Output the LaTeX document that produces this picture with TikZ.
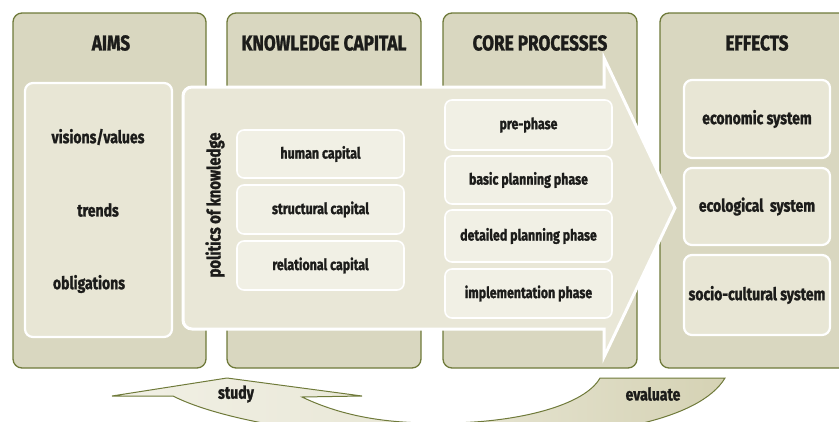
\documentclass[tikz,border=0pt]{standalone}
\usepackage{fontspec}
\setmainfont{Fira Sans}[FakeStretch=0.8, BoldFeatures={FakeBold=1.3}]
\usetikzlibrary{calc}
\definecolor{panelfill}{HTML}{D9D7C0}
\definecolor{olive}{HTML}{6F7A3A}
\definecolor{innerfill}{HTML}{E8E6D5}
\definecolor{arrowfill}{HTML}{E9E7D7}
\definecolor{lightfill}{HTML}{F1F0E5}
\definecolor{evalfill}{HTML}{D5D2B4}
\definecolor{txt}{HTML}{1C1C1A}
\tikzset{
  panel/.style={fill=panelfill, draw=olive, line width=1.3pt, rounded corners=9pt},
  innerbox/.style={fill=innerfill, draw=white, line width=2.2pt, rounded corners=8pt, inner sep=0pt},
  lightbox/.style={fill=lightfill, draw=white, line width=1.6pt, rounded corners=7pt, inner sep=0pt,
     font=\fontsize{15.5}{18}\selectfont\bfseries, text=txt},
  effbox/.style={innerbox, font=\fontsize{17.5}{20}\selectfont\bfseries, text=txt},
  header/.style={font=\fontsize{21.5}{24}\selectfont\bfseries, text=txt, inner sep=0pt},
  label/.style={font=\fontsize{17.5}{20}\selectfont\bfseries, text=txt, inner sep=0pt},
}
\begin{document}
\begin{tikzpicture}[x=1pt, y=-1pt]
\useasboundingbox (0,0) rectangle (839,421);
\clip (0,0) rectangle (839,421);
% panels
\draw[panel] (13,13) rectangle (206,368);
\draw[panel] (227,13) rectangle (421,368);
\draw[panel] (443,13) rectangle (637,368);
\draw[panel] (660,13) rectangle (850,368);
\node[header] (hA) at (111,43) {AIMS};
\node[header] (hK) at (324,43) {KNOWLEDGE CAPITAL};
\node[header] (hC) at (540,43) {CORE PROCESSES};
\node[header] (hE) at (757,43) {EFFECTS};
% aims inner
\node[innerbox, minimum width=147pt, minimum height=254pt] (aimsbox) at (98.5,210) {};
\node[label] (vv) at (98,137) {visions/values};
\node[label] (tr) at (98,210) {trends};
\node[label] (ob) at (89,284) {obligations};
% big arrow
\draw[fill=arrowfill, draw=white, line width=3pt, line join=miter]
  (604,87) -- (604,58) -- (675,208) -- (604,357) -- (604,329)
  [rounded corners=9pt] -- (183,329) -- (183,87) [sharp corners] -- cycle;
\node[label, rotate=90, font=\fontsize{18.5}{20}\selectfont\bfseries] (pk) at (215,205) {politics of knowledge};
% capital boxes
\node[lightbox, minimum width=167pt, minimum height=48pt] (hc) at (320.5,154) {human capital};
\node[lightbox, minimum width=167pt, minimum height=49pt] (sc) at (320.5,209.5) {structural capital};
\node[lightbox, minimum width=167pt, minimum height=49pt] (rc) at (320.5,265.5) {relational capital};
% phase boxes
\node[lightbox, minimum width=167pt, minimum height=50pt] (pp) at (528.5,125) {pre-phase};
\node[lightbox, minimum width=167pt, minimum height=48pt] (bp) at (528.5,180) {basic planning phase};
\node[lightbox, minimum width=167pt, minimum height=52pt] (dp) at (528.5,236) {detailed planning phase};
\node[lightbox, minimum width=167pt, minimum height=49pt] (ip) at (528.5,293.5) {implementation phase};
% effects boxes
\node[effbox, minimum width=146pt, minimum height=78pt] (es) at (757,119) {economic system};
\node[effbox, minimum width=146pt, minimum height=77pt] (cs) at (757,206.5) {ecological\ \ system};
\node[effbox, minimum width=146pt, minimum height=80pt] (ss) at (757,295) {socio-cultural system};
% bottom ribbon
\shade[left color=lightfill, right color=evalfill, middle color=lightfill!70!evalfill, draw=olive, line width=1pt]
  (112,396) -- (227,378) -- (362,396) -- (302,397)
  .. controls (350,420) and (400,424) .. (450,423)
  .. controls (520,422) and (585,405) .. (600,378)
  -- (725,378)
  .. controls (700,420) and (600,440) .. (460,440)
  .. controls (330,440) and (220,420) .. (173,396)
  -- cycle;
\node[label] (st) at (236,394) {study};
\node[label] (ev) at (653,394) {evaluate};
\end{tikzpicture}
\end{document}
